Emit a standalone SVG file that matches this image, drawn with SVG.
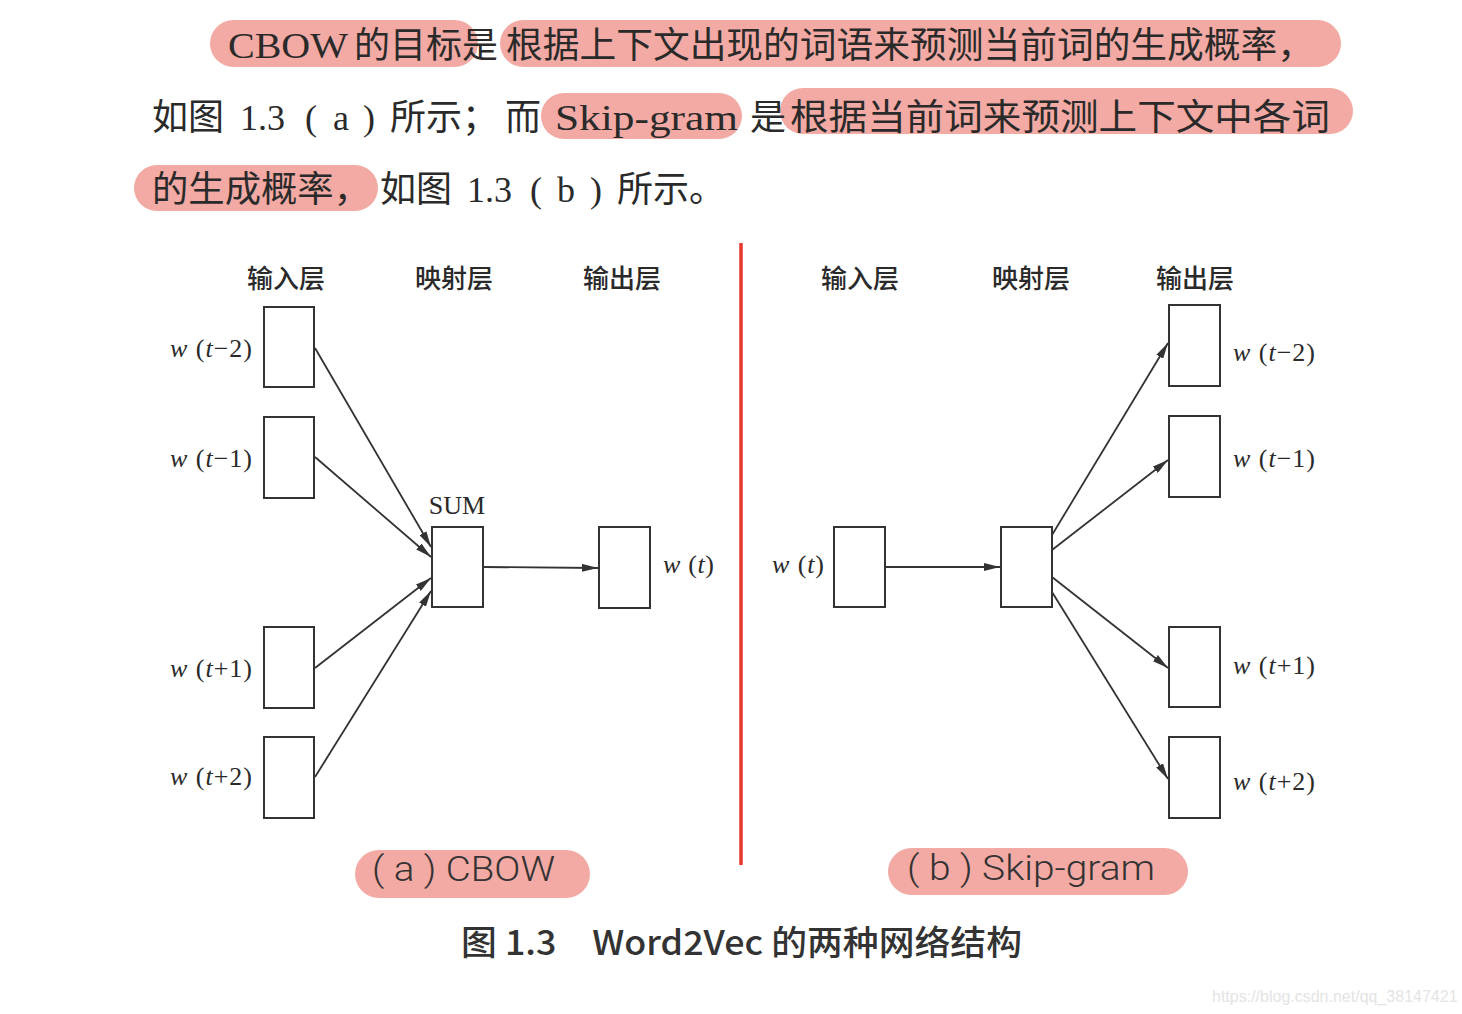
<svg xmlns="http://www.w3.org/2000/svg" width="1462" height="1014" viewBox="0 0 1462 1014">
<style>
.pill{fill:#f3aaa4}
.para{font-family:"Liberation Serif","Noto Sans CJK SC",serif;font-size:36px;fill:#2a2a2a}
.hdr{font-family:"Noto Sans CJK SC",sans-serif;font-size:26px;fill:#2a2a2a;font-weight:500}
.lbl{font-family:"Liberation Serif",serif;font-size:26px;fill:#2a2a2a}
.it{font-style:italic}
.box{fill:#fff;stroke:#333;stroke-width:2}
.edge{stroke:#333;stroke-width:1.8;fill:none;marker-end:url(#ah)}
.sub{font-family:"Roboto","Liberation Sans",sans-serif;font-size:35px;fill:#333;font-weight:300}
.cap{font-family:"Noto Sans CJK SC",sans-serif;font-size:34px;fill:#333;font-weight:500}
</style>
<defs>
<marker id="ah" viewBox="0 0 16 8" refX="16" refY="4" markerWidth="16" markerHeight="8" markerUnits="userSpaceOnUse" orient="auto">
<path d="M0,0 L16,4 L0,8 Z" fill="#333"/>
</marker>
</defs>
<rect width="1462" height="1014" fill="#fff"/>

<g id="paragraph">
<rect class="pill" x="210" y="20" width="268" height="47" rx="23.5"/>
<rect class="pill" x="500" y="20" width="841" height="47" rx="23.5"/>
<rect class="pill" x="541" y="93" width="201" height="46" rx="23"/>
<rect class="pill" x="780" y="88" width="573" height="46" rx="23"/>
<rect class="pill" x="134" y="165" width="244" height="46" rx="23"/>
<text class="para" y="58"><tspan x="228" textLength="120" lengthAdjust="spacingAndGlyphs">CBOW</tspan><tspan x="354">的目标是</tspan><tspan x="506" textLength="808" lengthAdjust="spacingAndGlyphs">根据上下文出现的词语来预测当前词的生成概率，</tspan></text>
<text class="para" y="130"><tspan x="152">如图</tspan><tspan x="240">1.3</tspan><tspan x="305">(</tspan><tspan x="333">a</tspan><tspan x="363">)</tspan><tspan x="390">所示；</tspan><tspan x="505">而</tspan><tspan x="555" textLength="183" lengthAdjust="spacingAndGlyphs">Skip-gram</tspan><tspan x="750">是</tspan><tspan x="790" textLength="540" lengthAdjust="spacingAndGlyphs">根据当前词来预测上下文中各词</tspan></text>
<text class="para" y="202"><tspan x="152" textLength="218" lengthAdjust="spacingAndGlyphs">的生成概率，</tspan><tspan x="380">如图</tspan><tspan x="467">1.3</tspan><tspan x="530">(</tspan><tspan x="557">b</tspan><tspan x="590">)</tspan><tspan x="617">所示。</tspan></text>
</g>

<g id="divider"><line x1="741" y1="243" x2="741" y2="865" stroke="#e8382e" stroke-width="3.5"/></g>

<g id="cbow-headers">
<text class="hdr" x="286" y="288" text-anchor="middle">输入层</text>
<text class="hdr" x="454" y="288" text-anchor="middle">映射层</text>
<text class="hdr" x="622" y="288" text-anchor="middle">输出层</text>
</g>

<g id="connectors">
<line class="edge" x1="315" y1="348" x2="431" y2="547"/>
<line class="edge" x1="315" y1="457" x2="431" y2="557"/>
<line class="edge" x1="315" y1="668" x2="431" y2="578"/>
<line class="edge" x1="315" y1="777" x2="431" y2="591"/>
<line class="edge" x1="483" y1="567" x2="598" y2="568"/>
<line class="edge" x1="885" y1="567" x2="1000" y2="567"/>
<line class="edge" x1="1052" y1="535" x2="1168" y2="343"/>
<line class="edge" x1="1052" y1="550" x2="1168" y2="460"/>
<line class="edge" x1="1052" y1="577" x2="1168" y2="668"/>
<line class="edge" x1="1052" y1="592" x2="1168" y2="779"/>
</g>

<g id="cbow-in-1"><rect class="box" x="264" y="307" width="50" height="80"/><text class="lbl" x="170" y="357" textLength="82"><tspan class="it">w</tspan> (<tspan class="it">t</tspan>−2)</text></g>
<g id="cbow-in-2"><rect class="box" x="264" y="417" width="50" height="81"/><text class="lbl" x="170" y="467" textLength="82"><tspan class="it">w</tspan> (<tspan class="it">t</tspan>−1)</text></g>
<g id="cbow-in-3"><rect class="box" x="264" y="627" width="50" height="81"/><text class="lbl" x="170" y="677" textLength="82"><tspan class="it">w</tspan> (<tspan class="it">t</tspan>+1)</text></g>
<g id="cbow-in-4"><rect class="box" x="264" y="737" width="50" height="81"/><text class="lbl" x="170" y="785" textLength="82"><tspan class="it">w</tspan> (<tspan class="it">t</tspan>+2)</text></g>
<g id="cbow-sum"><rect class="box" x="432" y="527" width="51" height="80"/><text class="lbl" x="457" y="514" text-anchor="middle">SUM</text></g>
<g id="cbow-out"><rect class="box" x="599" y="527" width="51" height="81"/><text class="lbl" x="663" y="573" textLength="51"><tspan class="it">w</tspan> (<tspan class="it">t</tspan>)</text></g>

<g id="sg-headers">
<text class="hdr" x="860" y="288" text-anchor="middle">输入层</text>
<text class="hdr" x="1031" y="288" text-anchor="middle">映射层</text>
<text class="hdr" x="1195" y="288" text-anchor="middle">输出层</text>
</g>
<g id="sg-in"><rect class="box" x="834" y="527" width="51" height="80"/><text class="lbl" x="772" y="573" textLength="52"><tspan class="it">w</tspan> (<tspan class="it">t</tspan>)</text></g>
<g id="sg-proj"><rect class="box" x="1001" y="527" width="51" height="80"/></g>
<g id="sg-out-1"><rect class="box" x="1169" y="305" width="51" height="81"/><text class="lbl" x="1233" y="361" textLength="82"><tspan class="it">w</tspan> (<tspan class="it">t</tspan>−2)</text></g>
<g id="sg-out-2"><rect class="box" x="1169" y="416" width="51" height="81"/><text class="lbl" x="1233" y="467" textLength="82"><tspan class="it">w</tspan> (<tspan class="it">t</tspan>−1)</text></g>
<g id="sg-out-3"><rect class="box" x="1169" y="627" width="51" height="80"/><text class="lbl" x="1233" y="674" textLength="82"><tspan class="it">w</tspan> (<tspan class="it">t</tspan>+1)</text></g>
<g id="sg-out-4"><rect class="box" x="1169" y="737" width="51" height="81"/><text class="lbl" x="1233" y="790" textLength="82"><tspan class="it">w</tspan> (<tspan class="it">t</tspan>+2)</text></g>

<g id="sub-a"><rect class="pill" x="355" y="850" width="235" height="48" rx="24"/><text class="sub" x="372" y="881" textLength="183" lengthAdjust="spacingAndGlyphs">( a ) CBOW</text></g>
<g id="sub-b"><rect class="pill" x="888" y="848" width="300" height="47" rx="23.5"/><text class="sub" x="907" y="880" textLength="248" lengthAdjust="spacingAndGlyphs">( b ) Skip-gram</text></g>

<g id="caption"><text class="cap" x="461" y="955" textLength="561" lengthAdjust="spacingAndGlyphs">图 1.3　Word2Vec 的两种网络结构</text></g>
<text x="1212" y="1002" font-family="Liberation Sans,sans-serif" font-size="16" fill="#e4e4e4">https://blog.csdn.net/qq_38147421</text>
</svg>
